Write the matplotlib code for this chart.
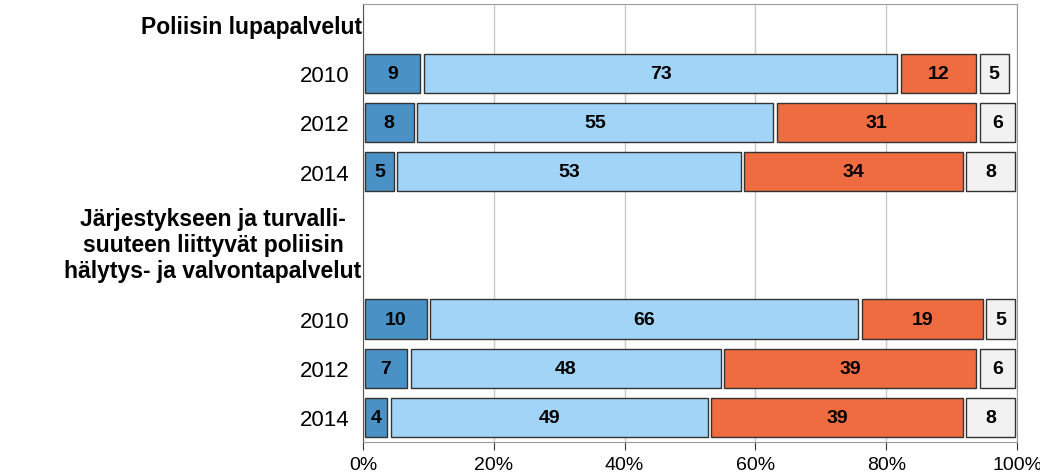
import matplotlib
matplotlib.use("Agg")
from matplotlib import pyplot as plt
import numpy as np

plt.rcParams['font.family'] = ['Liberation Sans', 'DejaVu Sans']

groups = ['Poliisin lupapalvelut',
          'Järjestykseen ja turvalli-\nsuuteen liittyvät poliisin\nhälytys- ja valvontapalvelut']
years = ['2010', '2012', '2014', '2010', '2012', '2014']
very_good = [9, 8, 5, 10, 7, 4]
fairly_good = [73, 55, 53, 66, 48, 49]
fairly_poor = [12, 31, 34, 19, 39, 39]
cant_say = [5, 6, 8, 5, 6, 8]

colors = ['#4A92C6', '#A2D4F7', '#EE6C40', '#F2F2F2']

rows = [1, 2, 3, 6, 7, 8]
header_rows = [0.05, 4.48]
gap = 0.55

fig = plt.figure(figsize=(10.4, 4.77), dpi=100)
ax = fig.add_axes([363 / 1040, 1 - 443 / 477, 654 / 1040, 438 / 477])

series = [very_good, fairly_good, fairly_poor, cant_say]
left = np.zeros(len(rows))
for vals, c in zip(series, colors):
    vals = np.array(vals, dtype=float)
    ax.barh(rows, vals - gap, left=left + gap / 2, height=0.8, color=c,
            edgecolor='#333333', linewidth=1, zorder=3)
    for r, l, v in zip(rows, left, vals):
        ax.text(l + v / 2, r, str(int(v)), ha='center', va='center',
                fontsize=14, fontweight='bold', color='black', zorder=4)
    left += vals

ax.set_xlim(0, 100)
ax.set_ylim(8.5, -0.41)
ax.set_yticks(rows)
ax.set_yticklabels(years, fontsize=16)
ax.tick_params(axis='y', length=0, pad=10)
ax.set_xticks([0, 20, 40, 60, 80, 100])
ax.set_xticklabels(['0%', '20%', '40%', '60%', '80%', '100%'], fontsize=14)
ax.tick_params(axis='x', direction='out', length=6, color='#333333', pad=4)
ax.xaxis.grid(True, color='#C8C8C8', linewidth=1, zorder=0)
ax.set_axisbelow(True)
for s in ['top', 'right', 'bottom']:
    ax.spines[s].set_color('#9A9A9A')
ax.spines['left'].set_color('#555555')

for g, hr in zip(groups, header_rows):
    ax.text(-0.2, hr, g, ha='right', va='center', multialignment='center',
            fontsize=16.5, fontweight='bold', linespacing=1.15)

fig.savefig('out.png', dpi=100)
